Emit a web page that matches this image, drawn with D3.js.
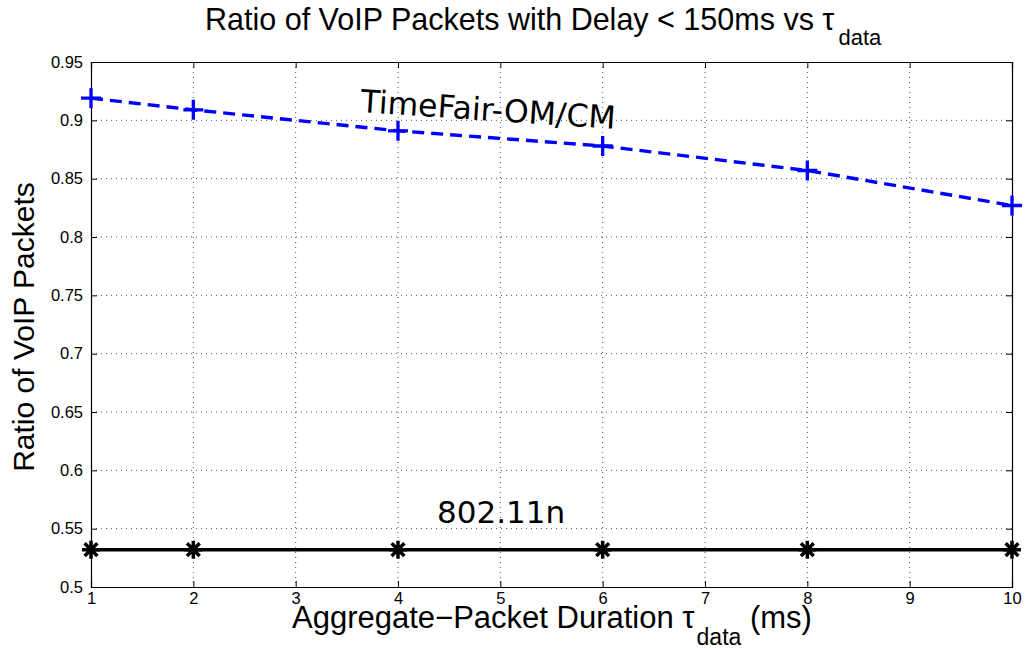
<!DOCTYPE html>
<html><head><meta charset="utf-8">
<script src="https://cdn.jsdelivr.net/npm/d3@7"></script>
<style>body{margin:0;background:#fff}</style>
</head><body>
<svg id="c" width="1026" height="650"></svg>
<script>
const xValues = [1, 2, 4, 6, 8, 10];
const timeFair = [0.919, 0.909, 0.891, 0.878, 0.857, 0.827];
const dot11n = [0.532, 0.532, 0.532, 0.532, 0.532, 0.532];
const xTicks = [1,2,3,4,5,6,7,8,9,10];
const yTicks = [0.5,0.55,0.6,0.65,0.7,0.75,0.8,0.85,0.9,0.95];

const svg = d3.select("#c");
const L=91, R=1012, T=62, B=587;
const x = d3.scaleLinear().domain([1,10]).range([L,R]);
const y = d3.scaleLinear().domain([0.5,0.95]).range([B,T]);
const font = "'Liberation Sans', Arial, sans-serif";

// grid
const g = svg.append("g");
g.selectAll(".gx").data(xTicks.slice(1,-1)).join("line")
  .attr("x1",d=>x(d)).attr("x2",d=>x(d)).attr("y1",T).attr("y2",B)
  .attr("stroke","#555").attr("stroke-width",1).attr("stroke-dasharray","1,4");
g.selectAll(".gy").data(yTicks.slice(1,-1)).join("line")
  .attr("y1",d=>y(d)).attr("y2",d=>y(d)).attr("x1",L).attr("x2",R)
  .attr("stroke","#555").attr("stroke-width",1).attr("stroke-dasharray","1,4");

// axes
const ax = d3.axisBottom(x).tickValues(xTicks).tickSize(-6).tickPadding(7).tickFormat(d3.format("d"));
const ay = d3.axisLeft(y).tickValues(yTicks).tickSize(-6).tickPadding(8).tickFormat(d=>d3.format("")(+d.toFixed(2)));
const axB = svg.append("g").attr("transform",`translate(0,${B})`).call(ax);
const axL = svg.append("g").attr("transform",`translate(${L},0)`).call(ay);
const axT = svg.append("g").attr("transform",`translate(0,${T})`).call(d3.axisTop(x).tickValues(xTicks).tickSize(-6).tickFormat(""));
const axR = svg.append("g").attr("transform",`translate(${R},0)`).call(d3.axisRight(y).tickValues(yTicks).tickSize(-6).tickFormat(""));
[axB,axL,axT,axR].forEach(a=>{
  a.select(".domain").attr("stroke","#000").attr("stroke-width",1.2);
  a.selectAll(".tick line").attr("stroke","#000").attr("stroke-width",1);
  a.selectAll("text").attr("font-family",font).attr("font-size",16.5).attr("fill","#000");
});
axB.selectAll("text").attr("dy","0.6em");

// lines
const line = d3.line().x((d,i)=>x(xValues[i])).y(d=>y(d));
svg.append("path").datum(dot11n).attr("d",line).attr("fill","none")
  .attr("stroke","#000").attr("stroke-width",3.5);
svg.append("path").datum(timeFair).attr("d",line).attr("fill","none")
  .attr("stroke","#0000ff").attr("stroke-width",3.4).attr("stroke-dasharray","12,7");

// markers
const s=10;
svg.selectAll(".plus").data(timeFair).join("path")
  .attr("d",(d,i)=>{const cx=x(xValues[i]),cy=y(d);return `M${cx-s},${cy}H${cx+s}M${cx},${cy-s}V${cy+s}`;})
  .attr("stroke","#0000ff").attr("stroke-width",3.3);
const a=9, b=a*0.7071;
svg.selectAll(".star").data(dot11n).join("path")
  .attr("d",(d,i)=>{const cx=x(xValues[i]),cy=y(d);
    return `M${cx-a},${cy}H${cx+a}M${cx},${cy-a}V${cy+a}M${cx-b},${cy-b}L${cx+b},${cy+b}M${cx-b},${cy+b}L${cx+b},${cy-b}`;})
  .attr("stroke","#000").attr("stroke-width",3.5);

// annotations
svg.append("text").attr("x",360).attr("y",112).attr("transform","rotate(3.8,360,112)")
  .attr("font-family","'DejaVu Sans', sans-serif").attr("font-size",31.5).text("TimeFair-OM/CM");
svg.append("text").attr("x",437).attr("y",523)
  .attr("font-family","'DejaVu Sans', sans-serif").attr("font-size",31).text("802.11n");

// title
const t = svg.append("text").attr("x",205).attr("y",30)
  .attr("font-family",font).attr("font-size",30.5);
t.append("tspan").text("Ratio of VoIP Packets with Delay < 150ms vs τ");
t.append("tspan").attr("font-size",22).attr("dx",4).attr("dy",15).text("data");

// x label
const xl = svg.append("text").attr("x",292).attr("y",628)
  .attr("font-family",font).attr("font-size",31);
xl.append("tspan").text("Aggregate−Packet Duration τ");
xl.append("tspan").attr("font-size",23).attr("dx",2).attr("dy",17).text("data");
xl.append("tspan").attr("dy",-17).text(" (ms)");

// y label
svg.append("text").attr("transform","translate(34,327) rotate(-90)").attr("text-anchor","middle")
  .attr("font-family",font).attr("font-size",30).text("Ratio of VoIP Packets");
</script>
</body></html>
